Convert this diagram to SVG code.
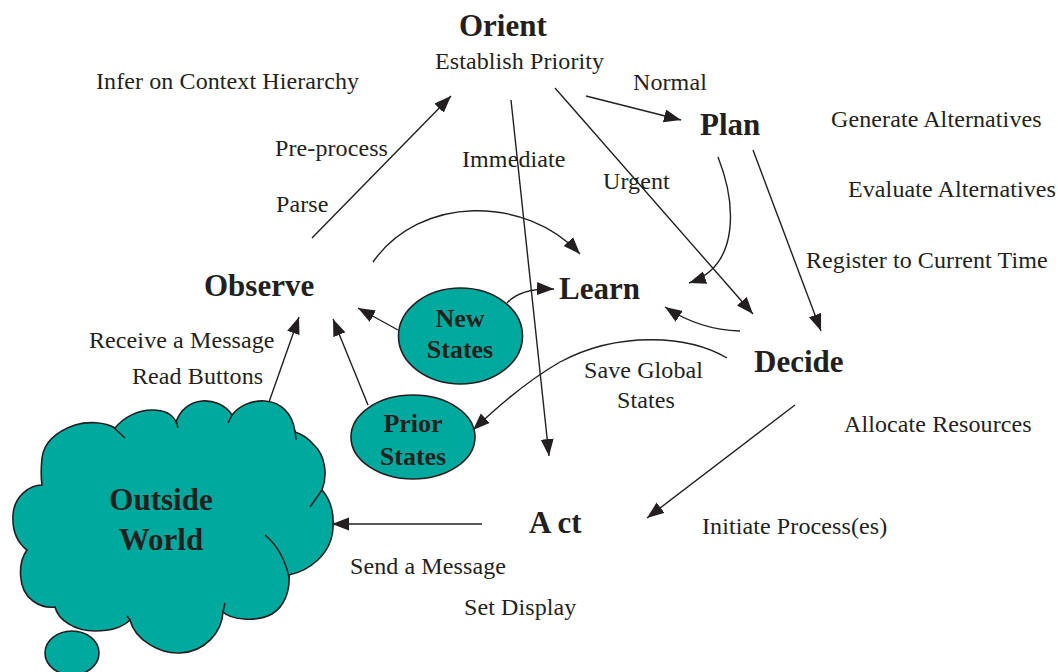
<svg xmlns="http://www.w3.org/2000/svg" width="1058" height="672" viewBox="0 0 1058 672">
<defs>
<style>
.t{font-family:"Liberation Serif","Times New Roman",serif;font-size:24px;fill:#231f20;letter-spacing:0.1px}
.b{font-family:"Liberation Serif","Times New Roman",serif;font-size:31px;font-weight:bold;fill:#231f20}
.s{font-family:"Liberation Serif","Times New Roman",serif;font-size:26px;font-weight:bold;fill:#231f20;text-anchor:middle}
.c{fill:none;stroke:#231f20;stroke-width:1.4;marker-end:url(#ah)}
.shape{fill:#00a99d;stroke:#231f20;stroke-width:1.6}
.inner{fill:none;stroke:#231f20;stroke-width:1.6}
</style>
<marker id="ah" markerUnits="userSpaceOnUse" markerWidth="18" markerHeight="14" refX="17" refY="6.5" orient="auto">
<path d="M0,0 L17,6.5 L0,13 z" fill="#231f20"/>
</marker>
</defs>
<rect width="1058" height="672" fill="#ffffff"/>

<g id="outside-world">
<ellipse cx="72" cy="653" rx="27" ry="22" class="shape"/>
<path class="shape" d="M42,485 C30,485 14,496 13,515 C12,532 18,543 27,550 C18,562 17,590 33,601 C40,606 48,608 55,607 C58,620 75,631 95,631 C110,631 123,627 130,620 C135,640 160,654 180,653 C205,652 222,632 223,612 C230,619 255,623 272,614 C285,606 290,590 289,575 C308,571 332,555 333,527 C334,512 330,499 322,490 C328,475 325,455 314,445 C308,438 302,434 295,432 C293,414 281,402 265,401 C250,400 238,407 232,415 C225,404 212,400 202,401 C190,402 180,410 176,422 C172,413 162,410 152,410 C138,410 124,417 115,428 C105,422 88,421 75,425 C55,432 44,442 42,458 C41,468 41,478 42,485 Z"/>
<path class="inner" d="M113,427 L125,438 M176,420 L178,428 M232,415 L228,423 M295,430 L296,440 M322,490 L310,507 M265,535 Q283,550 289,577 M223,612 L225,603 M130,620 L127,616"/>
<text class="b" x="161" y="510" text-anchor="middle">Outside</text>
<text class="b" x="161" y="550" text-anchor="middle">World</text>
</g>

<g id="new-states">
<ellipse cx="460.5" cy="336" rx="62" ry="48" class="shape"/>
<text class="s" x="460" y="327">New</text>
<text class="s" x="460" y="358">States</text>
</g>

<g id="prior-states">
<ellipse cx="413" cy="437" rx="62" ry="42" class="shape"/>
<text class="s" x="413" y="432">Prior</text>
<text class="s" x="413" y="465">States</text>
</g>

<g id="orient">
<text class="b" x="459" y="36">Orient</text>
<text class="t" x="435" y="69">Establish Priority</text>
</g>
<g id="plan">
<text class="b" x="700" y="135">Plan</text>
</g>
<g id="observe">
<text class="b" x="204" y="296">Observe</text>
</g>
<g id="learn">
<text class="b" x="559" y="299">Learn</text>
</g>
<g id="decide">
<text class="b" x="754" y="372">Decide</text>
</g>
<g id="act">
<text class="b" x="529" y="533">A ct</text>
</g>

<g id="labels">
<text class="t" x="96" y="89">Infer on Context Hierarchy</text>
<text class="t" x="633" y="90">Normal</text>
<text class="t" x="831" y="127">Generate Alternatives</text>
<text class="t" x="848" y="197">Evaluate Alternatives</text>
<text class="t" x="806" y="268">Register to Current Time</text>
<text class="t" x="275" y="156">Pre-process</text>
<text class="t" x="462" y="167">Immediate</text>
<text class="t" x="603" y="189">Urgent</text>
<text class="t" x="276" y="212">Parse</text>
<text class="t" x="89" y="348">Receive a Message</text>
<text class="t" x="132" y="384">Read Buttons</text>
<text class="t" x="584" y="378">Save Global</text>
<text class="t" x="617" y="408">States</text>
<text class="t" x="844" y="432">Allocate Resources</text>
<text class="t" x="702" y="534">Initiate Process(es)</text>
<text class="t" x="350" y="574">Send a Message</text>
<text class="t" x="464" y="615">Set Display</text>
</g>

<g id="connectors">
<path class="c" d="M312,238 L451,96"/>
<path class="c" d="M586,96 L681,120"/>
<path class="c" d="M511,100 L549,456"/>
<path class="c" d="M555,88 L753,314"/>
<path class="c" d="M718,157 C735,200 742,265 689,283"/>
<path class="c" d="M753,150 L821,331"/>
<path class="c" d="M740,331 Q700,330 665,307"/>
<path class="c" d="M727,358 C690,336 620,330 560,362 Q520,385 473,430"/>
<path class="c" d="M373,262 C420,195 525,195 580,254"/>
<path class="c" d="M507,303 Q520,288 554,289"/>
<path class="c" d="M398,330 L358,308"/>
<path class="c" d="M368,405 L333,319"/>
<path class="c" d="M269,402 L299,317"/>
<path class="c" d="M482,524 L332,524"/>
<path class="c" d="M795,405 L647,518"/>
</g>
</svg>
